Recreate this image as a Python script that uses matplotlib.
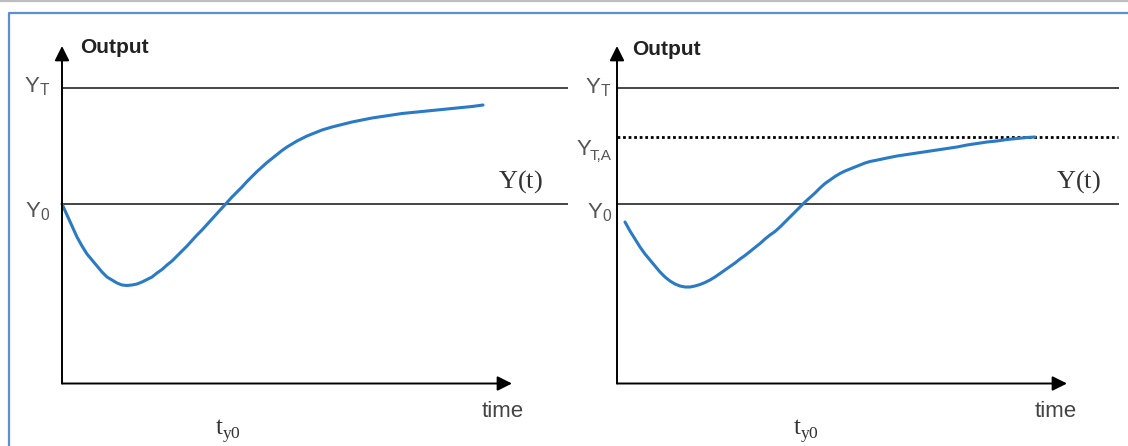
import matplotlib
matplotlib.use('Agg')
import matplotlib.pyplot as plt

# fonts: narrow sans for axis words, serif for Y(t) / t_y0
plt.rcParams['font.family'] = ['Liberation Sans Narrow', 'Liberation Sans', 'DejaVu Sans']
plt.rcParams['mathtext.fontset'] = 'custom'
plt.rcParams['mathtext.rm'] = 'Liberation Serif'
plt.rcParams['mathtext.sf'] = 'Liberation Sans'

# schematic data, arbitrary units: time from the origin, output relative to Y0 (Y_T = 116)
t_left = [0, 5, 10, 15, 20, 25, 30, 35, 40, 45, 50, 55, 60, 65, 70, 75, 80, 85, 90, 95,
          100, 105, 110, 115, 120, 125, 130, 135, 140, 145, 150, 155, 160, 165, 170, 175,
          180, 185, 190, 195, 200, 205, 210, 215, 220, 225, 230, 235, 240, 245, 250, 255,
          260, 270, 280, 290, 300, 310, 320, 330, 340, 350, 360, 370, 380, 390, 400, 410, 421]
y_left = [0, -11, -22, -33, -42, -50, -56, -62, -68, -73, -76, -79, -81, -81.5, -81, -80,
          -78, -75.5, -73, -69, -65.5, -61, -57, -52, -47, -42, -36.5, -31, -26, -20.5, -15,
          -9.5, -4, 1.5, 7, 12, 17, 22.5, 27.5, 32.5, 37, 41.5, 45.5, 49.5, 53.5, 57, 60, 63,
          65.5, 68, 70, 72, 74, 77, 79.5, 82, 84, 86, 87.5, 89, 90.5, 91.5, 92.5, 93.5, 94.5,
          95.5, 96.5, 97.5, 99]

t_right = [8, 13, 18, 23, 28, 33, 38, 43, 48, 53, 58, 63, 68, 73, 78, 83, 88, 93, 98, 103,
           108, 113, 118, 123, 128, 133, 138, 143, 148, 153, 158, 163, 168, 173, 178, 183,
           188, 193, 198, 203, 208, 213, 218, 223, 228, 233, 238, 243, 248, 253, 258, 263,
           270, 280, 290, 300, 310, 320, 330, 340, 350, 360, 370, 380, 390, 400, 410, 418]
y_right = [-18, -27, -35, -43, -50, -56, -62, -68, -73, -77, -80, -82, -83, -83, -82, -80.5,
           -78.5, -76, -73, -69.5, -66, -62.5, -59, -55, -51.5, -47.5, -43.5, -39.5, -35, -31,
           -27.5, -23, -18, -13, -8, -3, 2, 6.5, 11, 16, 20.5, 24, 27.5, 30.5, 33, 35, 37, 39,
           41, 42.5, 43.5, 44.5, 46, 48, 49.5, 51, 52.5, 54, 55.5, 57, 59, 60.5, 62, 63, 64.5,
           65.5, 66.5, 67]

Y0 = 0
YT = 116
YTA = 67

curve_col = '#2a7ac6'
line_col = '#444444'
label_col = '#555555'

W, H = 1128, 446
Y0_PX = 204   # pixel row of the Y0 line

fig = plt.figure(figsize=(W / 100, H / 100), dpi=100)

# frame (pixel coordinates)
frame = fig.add_axes([0, 0, 1, 1])
frame.set_xlim(0, W)
frame.set_ylim(H, 0)
frame.axis('off')
frame.plot([0, W], [0.8, 0.8], color='#bdbdbd', lw=1.6)
frame.plot([9, 9, W], [H, 13, 13], color='#5b8fd0', lw=1.6)


def make_panel(x0):
    left_px, right_px = x0 - 40, x0 + 512
    top_px, bot_px = 20, 440
    ax = fig.add_axes([left_px / W, 1 - bot_px / H,
                       (right_px - left_px) / W, (bot_px - top_px) / H])
    ax.set_xlim(-40, 512)
    ax.set_ylim(Y0_PX - bot_px, Y0_PX - top_px)
    ax.axis('off')
    return ax


x_axis_y = Y0_PX - 383.5
y_axis_top = Y0_PX - 46


def draw_axes(ax, line_end):
    arrow = dict(arrowstyle='-|>', color='black', lw=1.4, mutation_scale=22,
                 shrinkA=0, shrinkB=0)
    ax.annotate('', xy=(0, y_axis_top), xytext=(0, x_axis_y),
                arrowprops=arrow, annotation_clip=False)
    ax.annotate('', xy=(450, x_axis_y), xytext=(0, x_axis_y),
                arrowprops=arrow, annotation_clip=False)
    ax.plot([0, line_end], [YT, YT], color=line_col, lw=1.4)
    ax.plot([0, line_end], [Y0, Y0], color=line_col, lw=1.4)


def common_text(ax, out_x, out_y, yt_x, y0_x, yt_y, y0_y, yt_x2, time_x, ty0_x):
    ax.text(out_x, out_y, 'Output', fontsize=15, fontweight='bold', color='#222222',
            va='center', ha='left')
    ax.text(yt_x, yt_y, r'$\mathsf{Y}_{\mathsf{T}}$', fontsize=16, color=label_col,
            va='baseline', ha='left')
    ax.text(y0_x, y0_y, r'$\mathsf{Y}_{\mathsf{0}}$', fontsize=16, color=label_col,
            va='baseline', ha='left')
    ax.text(yt_x2, 16, r'$\mathrm{Y(t)}$', fontsize=19, color='#333333',
            va='baseline', ha='left')
    ax.text(time_x, -213, 'time', fontsize=16, color=line_col, va='baseline', ha='left')
    ax.text(ty0_x, -231, r'$\mathrm{t}_{\mathrm{y0}}$', fontsize=18, color='#333333',
            va='baseline', ha='left')


# left panel
axL = make_panel(62)
draw_axes(axL, 505)
axL.plot(t_left, y_left, color=curve_col, lw=2.2, solid_capstyle='round',
         solid_joinstyle='round')
common_text(axL, 18, 156, -38, -37, 112, -13, 436, 420, 153)

# right panel
axR = make_panel(617)
draw_axes(axR, 501)
axR.plot([0, 501], [YTA, YTA], color='black', lw=2.0, linestyle=(0, (1, 1)))
axR.plot(t_right, y_right, color=curve_col, lw=2.2, solid_capstyle='round',
         solid_joinstyle='round')
common_text(axR, 15, 154, -32, -30, 111, -14, 439, 418, 176)
axR.text(-40, 49, 'Y', fontsize=16, color=label_col, va='baseline', ha='left')
axR.text(-27, 44, 'T,A', fontsize=11, color=label_col, va='baseline', ha='left')

fig.savefig('out.png', dpi=100)
